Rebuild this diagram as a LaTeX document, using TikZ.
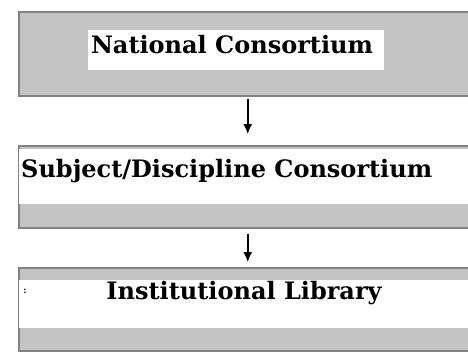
\documentclass[tikz,border=0pt]{standalone}
\usepackage{fontspec}
\setmainfont{DejaVu Serif}
\usetikzlibrary{positioning,arrows.meta}

\definecolor{boxgray}{RGB}{196,196,196}
\definecolor{edgegray}{RGB}{130,130,130}

\begin{document}
\begin{tikzpicture}[x=1pt,y=-1pt,
  outerbox/.style={draw=edgegray,fill=boxgray,line width=1.5pt,anchor=north west,inner sep=0pt},
  innerbox/.style={fill=white,anchor=north west,inner sep=0pt},
  boxtext/.style={font=\bfseries\fontsize{24}{26}\selectfont,inner sep=0pt},
  arr/.style={-{Latex[length=10pt,width=9pt]},line width=1.5pt}]
\useasboundingbox (0,0) rectangle (468,354);
\fill[white](0,0) rectangle (468,354);
% top box
\node[outerbox,minimum width=458pt,minimum height=84pt] (nat) at (18,11) {};
\node[innerbox,minimum width=296pt,minimum height=40pt] (natin) at (88,30) {};
\node[boxtext] (natlbl) at (232,45) {National Consortium};
% middle box
\node[outerbox,minimum width=458pt,minimum height=82pt] (sub) at (18,145) {};
\node[innerbox,minimum width=460pt,minimum height=55pt] (subin) at (19,149) {};
\node[boxtext,anchor=west] (sublbl) at (21,171) {Subject/Discipline Consortium};
% bottom box
\node[outerbox,minimum width=458pt,minimum height=83pt] (inst) at (18,267) {};
\node[innerbox,minimum width=460pt,minimum height=48pt] (instin) at (19,280) {};
\node[boxtext] (instlbl) at (244,293) {Institutional Library};
\node[font=\bfseries\small,inner sep=0pt] (dots) at (25,291) {:};
% arrows
\draw[arr,shorten <=2pt,shorten >=11pt] (nat) -- (sub);
\draw[arr,shorten <=5pt,shorten >=5pt] (sub) -- (inst);
\end{tikzpicture}
\end{document}
